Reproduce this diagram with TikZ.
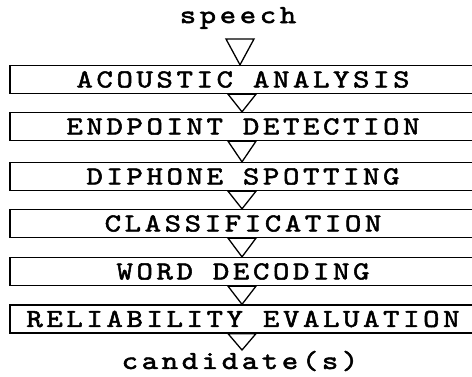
\documentclass[tikz,border=0pt]{standalone}
\usepackage{fontspec}
\newfontfamily\diattf[FakeStretch=1.2,LetterSpace=14,FakeBold=2]{lmmono10-regular.otf}
\newcommand{\diafont}{\diattf\fontsize{26}{26}\selectfont}
\usetikzlibrary{calc}
\begin{document}
\begin{tikzpicture}[x=1pt,y=-1pt,
  stage/.style={draw, line width=1.3pt, minimum width=464pt, minimum height=28pt,
    inner sep=0pt, font=\diafont},
  label/.style={inner sep=0pt, font=\diafont},
  tri/.style={draw, line width=1.3pt, line join=miter}]
\useasboundingbox (0,0) rectangle (472,376);
\node[label] (speech) at (238,18) {speech};
\node[stage] (b1) at (242,79.5) {\hspace*{2pt}ACOUSTIC ANALYSIS};
\node[stage] (b2) at (242,126.5) {\hspace*{2pt}ENDPOINT DETECTION};
\node[stage] (b3) at (242,176.5) {\hspace*{2pt}DIPHONE SPOTTING};
\node[stage] (b4) at (242,223.5) {\hspace*{2pt}CLASSIFICATION};
\node[stage] (b5) at (242,271.5) {\hspace*{2pt}WORD DECODING};
\node[stage] (b6) at (242,319) {\hspace*{2pt}RELIABILITY EVALUATION};
\node[label] (cand) at (240,361) {candidate(s)};
\coordinate (t0) at (240,39);
\coordinate (t6) at (241,350);
\draw[tri] ($(t0)+(-14,0)$) -- ($(t0)+(14,0)$) -- (t0 |- b1.north) -- cycle;
\foreach \a/\b in {b1/b2,b2/b3,b3/b4,b4/b5,b5/b6}{
  \draw[tri] ($(\a.south)+(-14,0)$) -- ($(\a.south)+(14,0)$) -- (\b.north) -- cycle;
}
\draw[tri] ($(b6.south)+(-14,0)$) -- ($(b6.south)+(14,0)$) -- (b6.south |- t6) -- cycle;
\end{tikzpicture}
\end{document}
